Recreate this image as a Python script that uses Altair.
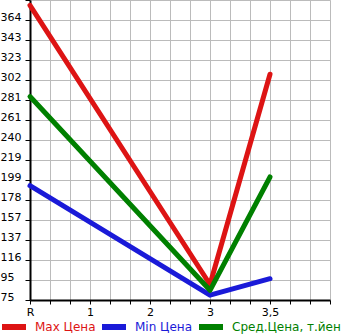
import altair as alt
import pandas as pd

grade_labels = ["R", "1", "2", "3", "3,5"]
series_names = ["Max Цена", "Min Цена", "Сред.Цена, т.йен"]
series_colors = ["#dd1414", "#1a1ad8", "#008000"]
point_pos = [0, 3, 4]
max_vals = [379, 91, 308]
min_vals = [193, 80, 97]
avg_vals = [285, 85, 202]
y_tick_labels = ["75", "95", "116", "137", "157", "178", "199", "219", "240",
                 "261", "281", "302", "323", "343", "364"]

y_min = 75.0
y_step = 20.643
y_max = y_min + 15 * y_step

rows = []
for name, vals in zip(series_names, [max_vals, min_vals, avg_vals]):
    for i, (p, v) in enumerate(zip(point_pos, vals)):
        rows.append({"series": name, "x": p, "value": v, "order": i})
df = pd.DataFrame(rows)

x_values = [i / 3 for i in range(16)]
y_values = [y_min + k * y_step for k in range(16)]

lab_arr = "[" + ",".join("'" + s + "'" for s in grade_labels) + "]"
x_label_expr = (
    f"abs(datum.value - round(datum.value)) < 0.01 && round(datum.value) <= 4 ? "
    f"{lab_arr}[round(datum.value)] : ''"
)
ylab_arr = "[" + ",".join("'" + s + "'" for s in y_tick_labels) + "]"
y_label_expr = (
    f"round((datum.value - {y_min}) / {y_step}) <= 14 ? "
    f"{ylab_arr}[round((datum.value - {y_min}) / {y_step})] : ''"
)

color_expr = (
    f"datum.label == '{series_names[0]}' ? '{series_colors[0]}' : "
    f"datum.label == '{series_names[1]}' ? '{series_colors[1]}' : '{series_colors[2]}'"
)

chart = alt.Chart(df).mark_line(strokeWidth=5, strokeCap="round", strokeJoin="round").encode(
    x=alt.X("x:Q", scale=alt.Scale(domain=[0, 5], nice=False, zero=False),
            axis=alt.Axis(values=x_values, labelExpr=x_label_expr, title=None,
                          grid=True, gridColor="#bbbbbb", gridWidth=1,
                          domainColor="#000000", domainWidth=2,
                          tickColor="#000000", tickSize=4, tickWidth=1,
                          labelPadding=2, labelFontSize=11, labelColor="#000000",
                          labelFont="DejaVu Sans", labelOverlap=False, labelFlush=False)),
    y=alt.Y("value:Q", scale=alt.Scale(domain=[y_min, y_max], nice=False, zero=False),
            axis=alt.Axis(values=y_values, labelExpr=y_label_expr, title=None,
                          grid=True, gridColor="#bbbbbb", gridWidth=1,
                          domainColor="#000000", domainWidth=2,
                          tickColor="#000000", tickSize=5, tickWidth=1,
                          labelAlign="left", labelBaseline="alphabetic",
                          labelPadding=25, labelFontSize=11, labelColor="#000000",
                          labelFont="DejaVu Sans", labelOverlap=False, labelFlush=False)),
    color=alt.Color("series:N", sort=series_names,
                    scale=alt.Scale(domain=series_names, range=series_colors),
                    legend=alt.Legend(title=None, orient="none", direction="horizontal",
                                      legendX=-31, legendY=312, padding=0,
                                      symbolType="stroke", symbolStrokeWidth=6,
                                      symbolSize=576, symbolOffset=0,
                                      labelFontSize=12, labelFont="DejaVu Sans",
                                      labelColor={"expr": color_expr},
                                      columnPadding=-6, labelOffset=6)),
    order="order:Q",
).properties(
    width=300, height=300,
    padding={"left": 30, "top": 0, "right": 15, "bottom": 35},
    autosize=alt.AutoSizeParams(type="none"),
).configure_view(fill="#f7f7f7", stroke=None).configure(background="#ffffff")

chart.save("out.html", embed_options={"renderer": "svg", "actions": False})
